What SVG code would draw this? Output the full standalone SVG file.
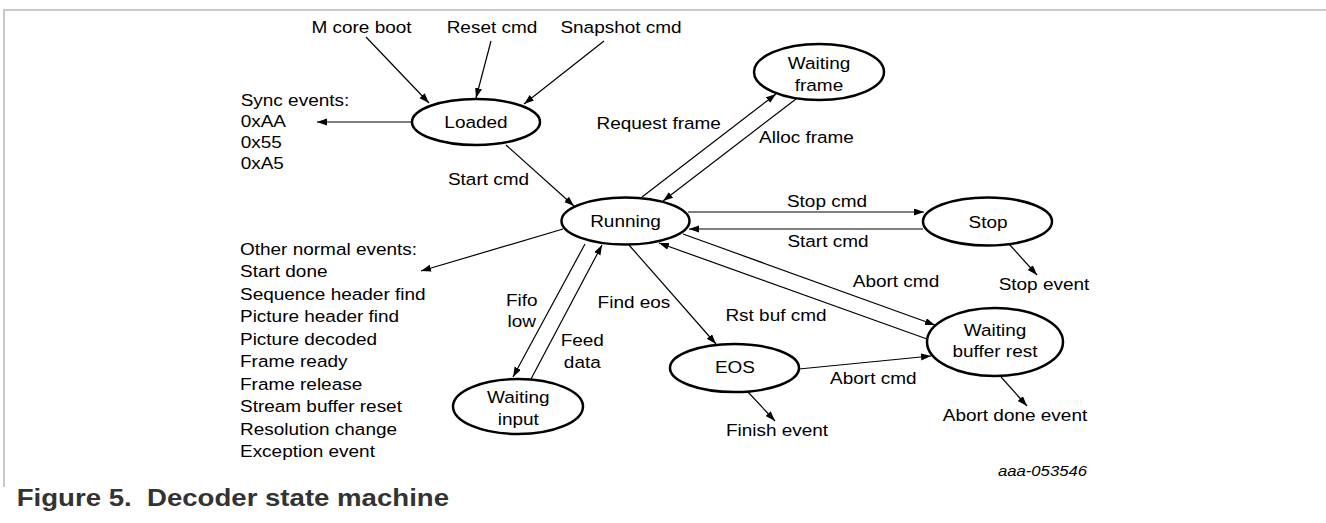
<svg xmlns="http://www.w3.org/2000/svg" width="1326" height="523" viewBox="0 0 1326 523">
<style>
.t{font-family:"Liberation Sans",Arial,sans-serif;font-size:16.5px;fill:#000;transform-box:fill-box;transform:scaleX(1.15)}
.m{text-anchor:middle;transform-origin:center}
.s{transform-origin:left center}
.e{text-anchor:end;transform-origin:right center;font-style:italic;font-size:14.5px}
.cap{font-family:"Liberation Sans",Arial,sans-serif;font-weight:bold;font-size:23px;fill:#333;transform-box:fill-box;transform-origin:left center;transform:scaleX(1.2)}
.st{fill:#fff;stroke:#000;stroke-width:2.5}
.c line{stroke:#000;stroke-width:1.2;marker-end:url(#ah)}
.fr{stroke:#c8c8c8;stroke-width:2;fill:none}
</style>
<defs>
<marker id="ah" markerUnits="userSpaceOnUse" markerWidth="11" markerHeight="8" refX="10" refY="3.5" orient="auto">
<path d="M0,0 L10,3.5 L0,7 z" fill="#000"/>
</marker>
</defs>
<rect width="1326" height="523" fill="#fff"/>
<path class="fr" d="M4,487 V10 H1326"/>

<g id="connectors" class="c">
<line x1="366" y1="37" x2="429" y2="103"/>
<line x1="491" y1="41" x2="476" y2="98"/>
<line x1="604" y1="41" x2="524" y2="104"/>
<line x1="412" y1="122" x2="317" y2="122"/>
<line x1="506" y1="145" x2="574" y2="206"/>
<line x1="642" y1="197" x2="776" y2="94"/>
<line x1="796" y1="99" x2="663" y2="201"/>
<line x1="688" y1="212" x2="924" y2="212"/>
<line x1="923" y1="229" x2="689" y2="229"/>
<line x1="563" y1="229" x2="421" y2="271"/>
<line x1="585" y1="244" x2="513" y2="377"/>
<line x1="531" y1="379" x2="602" y2="245"/>
<line x1="629" y1="245" x2="716" y2="344"/>
<line x1="683" y1="234" x2="935" y2="325"/>
<line x1="927" y1="339" x2="659" y2="243"/>
<line x1="799" y1="369" x2="931" y2="356"/>
<line x1="1009" y1="244" x2="1037" y2="275"/>
<line x1="748" y1="392" x2="775" y2="421"/>
<line x1="1001" y1="377" x2="1027" y2="406"/>
</g>

<g id="labels">
<text class="t m" x="361.5" y="33.5">M core boot</text>
<text class="t m" x="492" y="33.5">Reset cmd</text>
<text class="t m" x="621" y="33.5">Snapshot cmd</text>
<text class="t s" x="240.7" y="106"><tspan x="240.7" y="106">Sync events:</tspan><tspan x="240.7" y="127">0xAA</tspan><tspan x="240.7" y="148">0x55</tspan><tspan x="240.7" y="169">0xA5</tspan></text>
<text class="t m" x="488.5" y="185">Start cmd</text>
<text class="t m" x="658.7" y="129">Request frame</text>
<text class="t m" x="806.5" y="143">Alloc frame</text>
<text class="t m" x="827" y="207">Stop cmd</text>
<text class="t m" x="828" y="247.5">Start cmd</text>
<text class="t m" x="1044" y="290">Stop event</text>
<text class="t m" x="896" y="287.5">Abort cmd</text>
<text class="t m" x="776" y="321">Rst buf cmd</text>
<text class="t m" x="634" y="308">Find eos</text>
<text class="t m" x="521.7" y="306"><tspan x="521.7" y="306">Fifo</tspan><tspan x="521.7" y="327.5">low</tspan></text>
<text class="t m" x="582.3" y="346.5"><tspan x="582.3" y="346.5">Feed</tspan><tspan x="582.3" y="368">data</tspan></text>
<text class="t m" x="873.3" y="384">Abort cmd</text>
<text class="t m" x="777" y="436">Finish event</text>
<text class="t m" x="1015" y="421">Abort done event</text>
<text class="t s" x="240" y="255"><tspan x="240" y="255">Other normal events:</tspan><tspan x="240" y="277.5">Start done</tspan><tspan x="240" y="300">Sequence header find</tspan><tspan x="240" y="322.5">Picture header find</tspan><tspan x="240" y="345">Picture decoded</tspan><tspan x="240" y="367.5">Frame ready</tspan><tspan x="240" y="390">Frame release</tspan><tspan x="240" y="412.5">Stream buffer reset</tspan><tspan x="240" y="435">Resolution change</tspan><tspan x="240" y="457.5">Exception event</tspan></text>
<text class="t e" x="1087" y="476.5">aaa-053546</text>
<text class="cap" x="16.7" y="506" xml:space="preserve">Figure 5.  Decoder state machine</text>
</g>

<g id="loaded"><ellipse class="st" cx="476" cy="122" rx="64" ry="23"/><text class="t m" x="476" y="128.5">Loaded</text></g>
<g id="running"><ellipse class="st" cx="625.5" cy="221" rx="64" ry="23.5"/><text class="t m" x="625.5" y="227">Running</text></g>
<g id="waiting-frame"><ellipse class="st" cx="819" cy="72" rx="65" ry="28"/><text class="t m" x="819" y="69">Waiting</text><text class="t m" x="819" y="91">frame</text></g>
<g id="stop"><ellipse class="st" cx="987.5" cy="221.5" rx="64.5" ry="24"/><text class="t m" x="988" y="228">Stop</text></g>
<g id="waiting-buffer-rest"><ellipse class="st" cx="995" cy="342" rx="68" ry="34"/><text class="t m" x="995" y="336.5">Waiting</text><text class="t m" x="995" y="357.5">buffer rest</text></g>
<g id="eos"><ellipse class="st" cx="734.5" cy="368" rx="64.5" ry="24"/><text class="t m" x="735" y="373.5">EOS</text></g>
<g id="waiting-input"><ellipse class="st" cx="518" cy="406.5" rx="65" ry="27.5"/><text class="t m" x="518.3" y="403">Waiting</text><text class="t m" x="518.3" y="425">input</text></g>
</svg>
